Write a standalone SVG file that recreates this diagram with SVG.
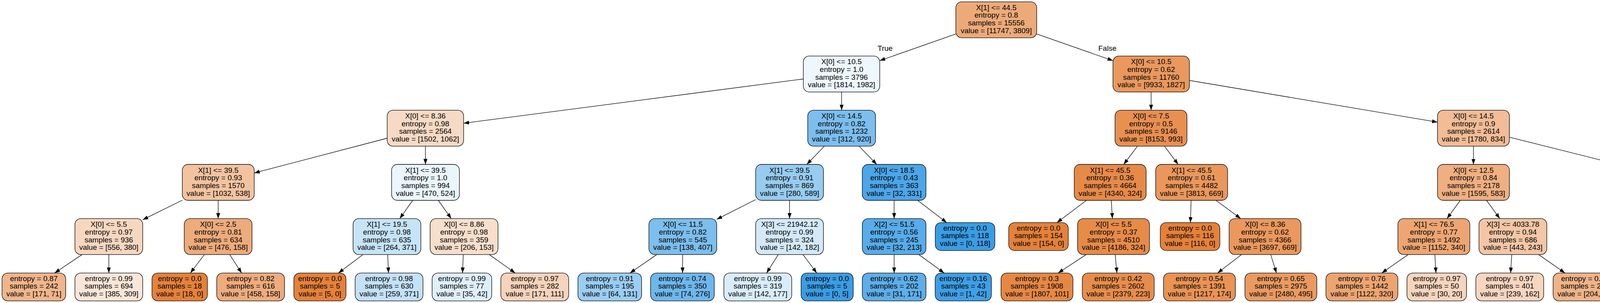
<svg xmlns="http://www.w3.org/2000/svg" width="4839" height="775" viewBox="0 0 4839 775">
<defs>
<marker id="ah" markerWidth="14" markerHeight="10" refX="14" refY="5" orient="auto" markerUnits="userSpaceOnUse"><path d="M0,0 L14,5 L0,10 z" fill="#000"/></marker>
<style>
.n rect{stroke:#000;stroke-width:1.3}
text{font-family:"Liberation Sans",Arial,Helvetica,sans-serif;font-size:19px;text-anchor:middle;fill:#000}
.e line{stroke:#000;stroke-width:1.3;marker-end:url(#ah)}
</style>
</defs>
<rect x="0" y="0" width="4839" height="775" fill="#fff"/>
<g id="edges" class="e">
<line x1="2447" y1="86.9" x2="2252.2" y2="155.1"/>
<line x1="2654" y1="86.9" x2="2849.2" y2="155.1"/>
<line x1="2056.5" y1="202" x2="1186.9" y2="315.2"/>
<line x1="2154.5" y1="235.3" x2="2154.5" y2="281.9"/>
<line x1="2946.8" y1="235.3" x2="2946.8" y2="281.9"/>
<line x1="3044.9" y1="205.7" x2="3680" y2="312.4"/>
<line x1="991.2" y1="353.5" x2="650.8" y2="442.4"/>
<line x1="1089.1" y1="373.9" x2="1089.2" y2="420.5"/>
<line x1="2110.4" y1="373.9" x2="2065.5" y2="420.5"/>
<line x1="2199.2" y1="373.9" x2="2244.4" y2="420.5"/>
<line x1="2911.8" y1="373.9" x2="2876.7" y2="420.5"/>
<line x1="2981" y1="373.9" x2="3016" y2="420.5"/>
<line x1="3772" y1="373.9" x2="3772" y2="420.5"/>
<line x1="3864.1" y1="350.9" x2="4239.7" y2="444.8"/>
<line x1="466.7" y1="512" x2="365.4" y2="562.1"/>
<line x1="558.6" y1="512.5" x2="558.5" y2="559.1"/>
<line x1="1056.5" y1="512.5" x2="1023.4" y2="559.1"/>
<line x1="1122.1" y1="512.5" x2="1155.2" y2="559.1"/>
<line x1="1934.5" y1="510.5" x2="1834.8" y2="561.1"/>
<line x1="2021.3" y1="512.5" x2="2021.3" y2="559.1"/>
<line x1="2289" y1="512.5" x2="2289" y2="559.1"/>
<line x1="2349.2" y1="512.5" x2="2423.7" y2="569.4"/>
<line x1="2781.1" y1="512.5" x2="2705.8" y2="569.4"/>
<line x1="2844.9" y1="512.5" x2="2847.7" y2="559.1"/>
<line x1="3049.2" y1="512.5" x2="3047.5" y2="569.4"/>
<line x1="3112.9" y1="512.5" x2="3176.1" y2="559.1"/>
<line x1="3738.3" y1="512.5" x2="3704.3" y2="559.1"/>
<line x1="3805.5" y1="512.5" x2="3839.5" y2="559.1"/>
<line x1="4326.5" y1="512.5" x2="4326.5" y2="559.1"/>
<line x1="4413.3" y1="511" x2="4525" y2="568.2"/>
<line x1="210.1" y1="651.1" x2="139.9" y2="698.3"/>
<line x1="278.6" y1="651.1" x2="278.6" y2="698.3"/>
<line x1="523.3" y1="651.1" x2="487.3" y2="698.3"/>
<line x1="588.1" y1="651.1" x2="618.6" y2="698.3"/>
<line x1="929.4" y1="651.1" x2="866.5" y2="698.3"/>
<line x1="992.5" y1="651.1" x2="994.5" y2="698.3"/>
<line x1="1186" y1="651.1" x2="1184" y2="698.3"/>
<line x1="1252.6" y1="651.1" x2="1318.9" y2="698.3"/>
<line x1="1681.3" y1="651.1" x2="1612.8" y2="698.3"/>
<line x1="1747.6" y1="651.1" x2="1747.3" y2="698.3"/>
<line x1="1992.3" y1="651.1" x2="1962.5" y2="698.3"/>
<line x1="2055.6" y1="651.1" x2="2090.9" y2="698.3"/>
<line x1="2289" y1="651.1" x2="2289" y2="698.3"/>
<line x1="2352.2" y1="651.1" x2="2417" y2="698.3"/>
<line x1="2780.6" y1="651.1" x2="2708.9" y2="698.3"/>
<line x1="2854.9" y1="651.1" x2="2859.3" y2="698.3"/>
<line x1="3178.5" y1="651.1" x2="3117" y2="698.3"/>
<line x1="3253" y1="651.1" x2="3267.8" y2="698.3"/>
<line x1="3604.9" y1="651.1" x2="3537.4" y2="698.3"/>
<line x1="3673.2" y1="651.1" x2="3676" y2="698.3"/>
<line x1="3870.1" y1="651.1" x2="3867.2" y2="698.3"/>
<line x1="3938.8" y1="651.1" x2="4006.4" y2="698.3"/>
<line x1="4295.1" y1="651.1" x2="4262.9" y2="698.3"/>
<line x1="4359.8" y1="651.1" x2="4393.9" y2="698.3"/>
<line x1="4597" y1="651.1" x2="4597" y2="698.3"/>
<line x1="4656.5" y1="651.1" x2="4717.5" y2="698.3"/>
</g>
<g id="edge-labels">
<text x="2266" y="130">True</text>
<text x="2835" y="130">False</text>
</g>

<g id="n0" class="n"><rect x="2447" y="4.7" width="207" height="92" rx="15" fill="#edaa79"/><text x="2550.5" y="25.7">X[1] &lt;= 44.5<tspan x="2550.5" dy="19.7">entropy = 0.8</tspan><tspan x="2550.5" dy="19.7">samples = 15556</tspan><tspan x="2550.5" dy="19.7">value = [11747, 3809]</tspan></text></g>

<g id="n1" class="n"><rect x="2056.5" y="143.3" width="195.7" height="92" rx="15" fill="#eef7fd"/><text x="2154.3" y="164.3">X[0] &lt;= 10.5<tspan x="2154.3" dy="19.7">entropy = 1.0</tspan><tspan x="2154.3" dy="19.7">samples = 3796</tspan><tspan x="2154.3" dy="19.7">value = [1814, 1982]</tspan></text></g>

<g id="n2" class="n"><rect x="2849.2" y="143.3" width="195.7" height="92" rx="15" fill="#ea985d"/><text x="2947" y="164.3">X[0] &lt;= 10.5<tspan x="2947" dy="19.7">entropy = 0.62</tspan><tspan x="2947" dy="19.7">samples = 11760</tspan><tspan x="2947" dy="19.7">value = [9933, 1827]</tspan></text></g>

<g id="n3" class="n"><rect x="991.2" y="281.9" width="195.7" height="92" rx="15" fill="#f7dac5"/><text x="1089" y="302.9">X[0] &lt;= 8.36<tspan x="1089" dy="19.7">entropy = 0.98</tspan><tspan x="1089" dy="19.7">samples = 2564</tspan><tspan x="1089" dy="19.7">value = [1502, 1062]</tspan></text></g>

<g id="n4" class="n"><rect x="2067.8" y="281.9" width="173.6" height="92" rx="15" fill="#7cbeee"/><text x="2154.6" y="302.9">X[0] &lt;= 14.5<tspan x="2154.6" dy="19.7">entropy = 0.82</tspan><tspan x="2154.6" dy="19.7">samples = 1232</tspan><tspan x="2154.6" dy="19.7">value = [312, 920]</tspan></text></g>

<g id="n5" class="n"><rect x="2854.5" y="281.9" width="184.1" height="92" rx="15" fill="#e89051"/><text x="2946.5" y="302.9">X[0] &lt;= 7.5<tspan x="2946.5" dy="19.7">entropy = 0.5</tspan><tspan x="2946.5" dy="19.7">samples = 9146</tspan><tspan x="2946.5" dy="19.7">value = [8153, 993]</tspan></text></g>

<g id="n6" class="n"><rect x="3680" y="281.9" width="184.1" height="92" rx="15" fill="#f1bc96"/><text x="3772" y="302.9">X[0] &lt;= 14.5<tspan x="3772" dy="19.7">entropy = 0.9</tspan><tspan x="3772" dy="19.7">samples = 2614</tspan><tspan x="3772" dy="19.7">value = [1780, 834]</tspan></text></g>

<g id="n7" class="n"><rect x="466.7" y="420.5" width="184.1" height="92" rx="15" fill="#f3c3a0"/><text x="558.7" y="441.5">X[1] &lt;= 39.5<tspan x="558.7" dy="19.7">entropy = 0.93</tspan><tspan x="558.7" dy="19.7">samples = 1570</tspan><tspan x="558.7" dy="19.7">value = [1032, 538]</tspan></text></g>

<g id="n8" class="n"><rect x="1002.5" y="420.5" width="173.6" height="92" rx="15" fill="#ebf5fc"/><text x="1089.3" y="441.5">X[1] &lt;= 39.5<tspan x="1089.3" dy="19.7">entropy = 1.0</tspan><tspan x="1089.3" dy="19.7">samples = 994</tspan><tspan x="1089.3" dy="19.7">value = [470, 524]</tspan></text></g>

<g id="n9" class="n"><rect x="1934.5" y="420.5" width="173.6" height="92" rx="15" fill="#97ccf1"/><text x="2021.3" y="441.5">X[1] &lt;= 39.5<tspan x="2021.3" dy="19.7">entropy = 0.91</tspan><tspan x="2021.3" dy="19.7">samples = 869</tspan><tspan x="2021.3" dy="19.7">value = [280, 589]</tspan></text></g>

<g id="n10" class="n"><rect x="2207.5" y="420.5" width="163" height="92" rx="15" fill="#4ca6e8"/><text x="2289" y="441.5">X[0] &lt;= 18.5<tspan x="2289" dy="19.7">entropy = 0.43</tspan><tspan x="2289" dy="19.7">samples = 363</tspan><tspan x="2289" dy="19.7">value = [32, 331]</tspan></text></g>

<g id="n11" class="n"><rect x="2750" y="420.5" width="184.1" height="92" rx="15" fill="#e78a48"/><text x="2842" y="441.5">X[1] &lt;= 45.5<tspan x="2842" dy="19.7">entropy = 0.36</tspan><tspan x="2842" dy="19.7">samples = 4664</tspan><tspan x="2842" dy="19.7">value = [4340, 324]</tspan></text></g>

<g id="n12" class="n"><rect x="2958.5" y="420.5" width="184.1" height="92" rx="15" fill="#ea975c"/><text x="3050.5" y="441.5">X[1] &lt;= 45.5<tspan x="3050.5" dy="19.7">entropy = 0.61</tspan><tspan x="3050.5" dy="19.7">samples = 4482</tspan><tspan x="3050.5" dy="19.7">value = [3813, 669]</tspan></text></g>

<g id="n13" class="n"><rect x="3680" y="420.5" width="184.1" height="92" rx="15" fill="#efaf81"/><text x="3772" y="441.5">X[0] &lt;= 12.5<tspan x="3772" dy="19.7">entropy = 0.84</tspan><tspan x="3772" dy="19.7">samples = 2178</tspan><tspan x="3772" dy="19.7">value = [1595, 583]</tspan></text></g>

<g id="n14" class="n"><rect x="4239.7" y="420.5" width="173.6" height="92" rx="15" fill="#cbe5f8"/><text x="4326.5" y="441.5">X[0] &lt;= 18.5<tspan x="4326.5" dy="19.7">entropy = 0.98</tspan><tspan x="4326.5" dy="19.7">samples = 436</tspan><tspan x="4326.5" dy="19.7">value = [185, 251]</tspan></text></g>

<g id="n15" class="n"><rect x="191.8" y="559.1" width="173.6" height="92" rx="15" fill="#f7d7c0"/><text x="278.6" y="580.1">X[0] &lt;= 5.5<tspan x="278.6" dy="19.7">entropy = 0.97</tspan><tspan x="278.6" dy="19.7">samples = 936</tspan><tspan x="278.6" dy="19.7">value = [556, 380]</tspan></text></g>

<g id="n16" class="n"><rect x="471.6" y="559.1" width="173.6" height="92" rx="15" fill="#eeab7b"/><text x="558.4" y="580.1">X[0] &lt;= 2.5<tspan x="558.4" dy="19.7">entropy = 0.81</tspan><tspan x="558.4" dy="19.7">samples = 634</tspan><tspan x="558.4" dy="19.7">value = [476, 158]</tspan></text></g>

<g id="n17" class="n"><rect x="903.8" y="559.1" width="173.6" height="92" rx="15" fill="#c6e3f8"/><text x="990.6" y="580.1">X[1] &lt;= 19.5<tspan x="990.6" dy="19.7">entropy = 0.98</tspan><tspan x="990.6" dy="19.7">samples = 635</tspan><tspan x="990.6" dy="19.7">value = [264, 371]</tspan></text></g>

<g id="n18" class="n"><rect x="1101.2" y="559.1" width="173.6" height="92" rx="15" fill="#f8dfcc"/><text x="1188" y="580.1">X[0] &lt;= 8.86<tspan x="1188" dy="19.7">entropy = 0.98</tspan><tspan x="1188" dy="19.7">samples = 359</tspan><tspan x="1188" dy="19.7">value = [206, 153]</tspan></text></g>

<g id="n19" class="n"><rect x="1661.2" y="559.1" width="173.6" height="92" rx="15" fill="#7cbeee"/><text x="1748" y="580.1">X[0] &lt;= 11.5<tspan x="1748" dy="19.7">entropy = 0.82</tspan><tspan x="1748" dy="19.7">samples = 545</tspan><tspan x="1748" dy="19.7">value = [138, 407]</tspan></text></g>

<g id="n20" class="n"><rect x="1934.5" y="559.1" width="173.6" height="92" rx="15" fill="#d3e9f9"/><text x="2021.3" y="580.1">X[3] &lt;= 21942.12<tspan x="2021.3" dy="19.7">entropy = 0.99</tspan><tspan x="2021.3" dy="19.7">samples = 324</tspan><tspan x="2021.3" dy="19.7">value = [142, 182]</tspan></text></g>

<g id="n21" class="n"><rect x="2207.5" y="559.1" width="163" height="92" rx="15" fill="#57ace9"/><text x="2289" y="580.1">X[2] &lt;= 51.5<tspan x="2289" dy="19.7">entropy = 0.56</tspan><tspan x="2289" dy="19.7">samples = 245</tspan><tspan x="2289" dy="19.7">value = [32, 213]</tspan></text></g>

<g id="n22" class="n"><rect x="2394.3" y="569.4" width="152.5" height="71.4" rx="15" fill="#399de5"/><text x="2470.5" y="589.7">entropy = 0.0<tspan x="2470.5" dy="19.7">samples = 118</tspan><tspan x="2470.5" dy="19.7">value = [0, 118]</tspan></text></g>

<g id="n23" class="n"><rect x="2582.3" y="569.4" width="152.5" height="71.4" rx="15" fill="#e58139"/><text x="2658.5" y="589.7">entropy = 0.0<tspan x="2658.5" dy="19.7">samples = 154</tspan><tspan x="2658.5" dy="19.7">value = [154, 0]</tspan></text></g>

<g id="n24" class="n"><rect x="2758.6" y="559.1" width="184.1" height="92" rx="15" fill="#e78b48"/><text x="2850.6" y="580.1">X[0] &lt;= 5.5<tspan x="2850.6" dy="19.7">entropy = 0.37</tspan><tspan x="2850.6" dy="19.7">samples = 4510</tspan><tspan x="2850.6" dy="19.7">value = [4186, 324]</tspan></text></g>

<g id="n25" class="n"><rect x="2970.3" y="569.4" width="152.5" height="71.4" rx="15" fill="#e58139"/><text x="3046.5" y="589.7">entropy = 0.0<tspan x="3046.5" dy="19.7">samples = 116</tspan><tspan x="3046.5" dy="19.7">value = [116, 0]</tspan></text></g>

<g id="n26" class="n"><rect x="3146.5" y="559.1" width="184.1" height="92" rx="15" fill="#ea985d"/><text x="3238.5" y="580.1">X[0] &lt;= 8.36<tspan x="3238.5" dy="19.7">entropy = 0.62</tspan><tspan x="3238.5" dy="19.7">samples = 4366</tspan><tspan x="3238.5" dy="19.7">value = [3697, 669]</tspan></text></g>

<g id="n27" class="n"><rect x="3578.6" y="559.1" width="184.1" height="92" rx="15" fill="#eda673"/><text x="3670.6" y="580.1">X[1] &lt;= 76.5<tspan x="3670.6" dy="19.7">entropy = 0.77</tspan><tspan x="3670.6" dy="19.7">samples = 1492</tspan><tspan x="3670.6" dy="19.7">value = [1152, 340]</tspan></text></g>

<g id="n28" class="n"><rect x="3786.2" y="559.1" width="173.6" height="92" rx="15" fill="#f3c6a6"/><text x="3873" y="580.1">X[3] &lt;= 4033.78<tspan x="3873" dy="19.7">entropy = 0.94</tspan><tspan x="3873" dy="19.7">samples = 686</tspan><tspan x="3873" dy="19.7">value = [443, 243]</tspan></text></g>

<g id="n29" class="n"><rect x="4239.7" y="559.1" width="173.6" height="92" rx="15" fill="#eff7fd"/><text x="4326.5" y="580.1">X[0] &lt;= 15.5<tspan x="4326.5" dy="19.7">entropy = 1.0</tspan><tspan x="4326.5" dy="19.7">samples = 376</tspan><tspan x="4326.5" dy="19.7">value = [180, 196]</tspan></text></g>

<g id="n30" class="n"><rect x="4525" y="559.1" width="144" height="92" rx="15" fill="#4ba6e7"/><text x="4597" y="580.1">X[0] &lt;= 19.5<tspan x="4597" dy="19.7">entropy = 0.41</tspan><tspan x="4597" dy="19.7">samples = 60</tspan><tspan x="4597" dy="19.7">value = [5, 55]</tspan></text></g>

<g id="l0" class="n"><rect x="5.2" y="698.3" width="163" height="71.4" rx="15" fill="#f0b58b"/><text x="86.7" y="718.6">entropy = 0.87<tspan x="86.7" dy="19.7">samples = 242</tspan><tspan x="86.7" dy="19.7">value = [171, 71]</tspan></text></g>
<g id="l1" class="n"><rect x="191.8" y="698.3" width="173.6" height="71.4" rx="15" fill="#fae6d8"/><text x="278.6" y="718.6">entropy = 0.99<tspan x="278.6" dy="19.7">samples = 694</tspan><tspan x="278.6" dy="19.7">value = [385, 309]</tspan></text></g>
<g id="l2" class="n"><rect x="389.1" y="698.3" width="141.9" height="71.4" rx="15" fill="#e58139"/><text x="460" y="718.6">entropy = 0.0<tspan x="460" dy="19.7">samples = 18</tspan><tspan x="460" dy="19.7">value = [18, 0]</tspan></text></g>
<g id="l3" class="n"><rect x="554.8" y="698.3" width="173.6" height="71.4" rx="15" fill="#eeac7d"/><text x="641.6" y="718.6">entropy = 0.82<tspan x="641.6" dy="19.7">samples = 616</tspan><tspan x="641.6" dy="19.7">value = [458, 158]</tspan></text></g>
<g id="l4" class="n"><rect x="752.3" y="698.3" width="133.4" height="71.4" rx="15" fill="#e58139"/><text x="819" y="718.6">entropy = 0.0<tspan x="819" dy="19.7">samples = 5</tspan><tspan x="819" dy="19.7">value = [5, 0]</tspan></text></g>
<g id="l5" class="n"><rect x="909.2" y="698.3" width="173.6" height="71.4" rx="15" fill="#c3e1f7"/><text x="996" y="718.6">entropy = 0.98<tspan x="996" dy="19.7">samples = 630</tspan><tspan x="996" dy="19.7">value = [259, 371]</tspan></text></g>
<g id="l6" class="n"><rect x="1106.3" y="698.3" width="152.5" height="71.4" rx="15" fill="#deeffb"/><text x="1182.5" y="718.6">entropy = 0.99<tspan x="1182.5" dy="19.7">samples = 77</tspan><tspan x="1182.5" dy="19.7">value = [35, 42]</tspan></text></g>
<g id="l7" class="n"><rect x="1282.2" y="698.3" width="173.6" height="71.4" rx="15" fill="#f6d3ba"/><text x="1369" y="718.6">entropy = 0.97<tspan x="1369" dy="19.7">samples = 282</tspan><tspan x="1369" dy="19.7">value = [171, 111]</tspan></text></g>
<g id="l8" class="n"><rect x="1479.5" y="698.3" width="163" height="71.4" rx="15" fill="#9acdf2"/><text x="1561" y="718.6">entropy = 0.91<tspan x="1561" dy="19.7">samples = 195</tspan><tspan x="1561" dy="19.7">value = [64, 131]</tspan></text></g>
<g id="l9" class="n"><rect x="1665.5" y="698.3" width="163" height="71.4" rx="15" fill="#6eb7ec"/><text x="1747" y="718.6">entropy = 0.74<tspan x="1747" dy="19.7">samples = 350</tspan><tspan x="1747" dy="19.7">value = [74, 276]</tspan></text></g>
<g id="l10" class="n"><rect x="1853.2" y="698.3" width="173.6" height="71.4" rx="15" fill="#d8ecfa"/><text x="1940" y="718.6">entropy = 0.99<tspan x="1940" dy="19.7">samples = 319</tspan><tspan x="1940" dy="19.7">value = [142, 177]</tspan></text></g>
<g id="l11" class="n"><rect x="2050.8" y="698.3" width="133.4" height="71.4" rx="15" fill="#399de5"/><text x="2117.5" y="718.6">entropy = 0.0<tspan x="2117.5" dy="19.7">samples = 5</tspan><tspan x="2117.5" dy="19.7">value = [0, 5]</tspan></text></g>
<g id="l12" class="n"><rect x="2207.5" y="698.3" width="163" height="71.4" rx="15" fill="#5daee9"/><text x="2289" y="718.6">entropy = 0.62<tspan x="2289" dy="19.7">samples = 202</tspan><tspan x="2289" dy="19.7">value = [31, 171]</tspan></text></g>
<g id="l13" class="n"><rect x="2394" y="698.3" width="144" height="71.4" rx="15" fill="#3e9fe6"/><text x="2466" y="718.6">entropy = 0.16<tspan x="2466" dy="19.7">samples = 43</tspan><tspan x="2466" dy="19.7">value = [1, 42]</tspan></text></g>
<g id="l14" class="n"><rect x="2562.6" y="698.3" width="184.1" height="71.4" rx="15" fill="#e68844"/><text x="2654.6" y="718.6">entropy = 0.3<tspan x="2654.6" dy="19.7">samples = 1908</tspan><tspan x="2654.6" dy="19.7">value = [1807, 101]</tspan></text></g>
<g id="l15" class="n"><rect x="2770.6" y="698.3" width="184.1" height="71.4" rx="15" fill="#e78d4c"/><text x="2862.6" y="718.6">entropy = 0.42<tspan x="2862.6" dy="19.7">samples = 2602</tspan><tspan x="2862.6" dy="19.7">value = [2379, 223]</tspan></text></g>
<g id="l16" class="n"><rect x="2978.5" y="698.3" width="184.1" height="71.4" rx="15" fill="#e99355"/><text x="3070.5" y="718.6">entropy = 0.54<tspan x="3070.5" dy="19.7">samples = 1391</tspan><tspan x="3070.5" dy="19.7">value = [1217, 174]</tspan></text></g>
<g id="l17" class="n"><rect x="3187" y="698.3" width="184.1" height="71.4" rx="15" fill="#ea9a61"/><text x="3279" y="718.6">entropy = 0.65<tspan x="3279" dy="19.7">samples = 2975</tspan><tspan x="3279" dy="19.7">value = [2480, 495]</tspan></text></g>
<g id="l18" class="n"><rect x="3394.4" y="698.3" width="184.1" height="71.4" rx="15" fill="#eca571"/><text x="3486.4" y="718.6">entropy = 0.76<tspan x="3486.4" dy="19.7">samples = 1442</tspan><tspan x="3486.4" dy="19.7">value = [1122, 320]</tspan></text></g>
<g id="l19" class="n"><rect x="3601.8" y="698.3" width="152.5" height="71.4" rx="15" fill="#f6d5bd"/><text x="3678" y="718.6">entropy = 0.97<tspan x="3678" dy="19.7">samples = 50</tspan><tspan x="3678" dy="19.7">value = [30, 20]</tspan></text></g>
<g id="l20" class="n"><rect x="3778.2" y="698.3" width="173.6" height="71.4" rx="15" fill="#f7d6bf"/><text x="3865" y="718.6">entropy = 0.97<tspan x="3865" dy="19.7">samples = 401</tspan><tspan x="3865" dy="19.7">value = [239, 162]</tspan></text></g>
<g id="l21" class="n"><rect x="3976" y="698.3" width="163" height="71.4" rx="15" fill="#efb388"/><text x="4057.5" y="718.6">entropy = 0.86<tspan x="4057.5" dy="19.7">samples = 285</tspan><tspan x="4057.5" dy="19.7">value = [204, 81]</tspan></text></g>
<g id="l22" class="n"><rect x="4162.3" y="698.3" width="152.5" height="71.4" rx="15" fill="#fae7d9"/><text x="4238.5" y="718.6">entropy = 0.99<tspan x="4238.5" dy="19.7">samples = 177</tspan><tspan x="4238.5" dy="19.7">value = [98, 79]</tspan></text></g>
<g id="l23" class="n"><rect x="4338.2" y="698.3" width="163" height="71.4" rx="15" fill="#c4e2f7"/><text x="4419.7" y="718.6">entropy = 0.98<tspan x="4419.7" dy="19.7">samples = 199</tspan><tspan x="4419.7" dy="19.7">value = [82, 117]</tspan></text></g>
<g id="l24" class="n"><rect x="4525" y="698.3" width="144" height="71.4" rx="15" fill="#64b2eb"/><text x="4597" y="718.6">entropy = 0.68<tspan x="4597" dy="19.7">samples = 28</tspan><tspan x="4597" dy="19.7">value = [5, 23]</tspan></text></g>
<g id="l25" class="n"><rect x="4692.7" y="698.3" width="141.9" height="71.4" rx="15" fill="#399de5"/><text x="4763.6" y="718.6">entropy = 0.0<tspan x="4763.6" dy="19.7">samples = 32</tspan><tspan x="4763.6" dy="19.7">value = [0, 32]</tspan></text></g>
</svg>
